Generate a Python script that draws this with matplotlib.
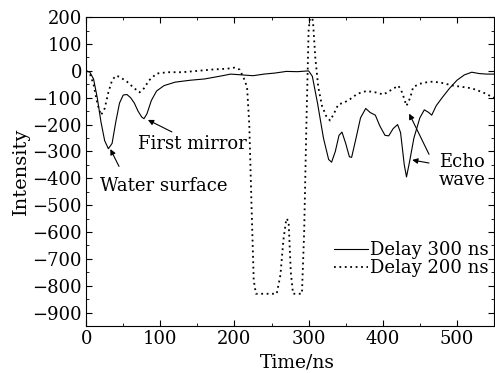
import matplotlib
matplotlib.use('Agg')
import matplotlib.pyplot as plt
from matplotlib.ticker import MultipleLocator

plt.rcParams['font.family'] = ['DejaVu Serif']

# Delay 300 ns (solid)
t300 = [0, 5, 10, 15, 20, 25, 30, 35, 40, 45, 50, 55, 60, 65, 70, 75, 78, 82, 88, 95,
        105, 120, 140, 160, 180, 195, 210, 225, 240, 255, 270, 285, 300, 305, 312, 320,
        327, 331, 336, 341, 345, 350, 355, 358, 364, 370, 377, 383, 390, 396, 403, 408,
        414, 420, 424, 429, 432, 436, 442, 450, 456, 462, 466, 472, 480, 490, 500, 510,
        520, 530, 540, 550]
v300 = [0, -5, -30, -100, -190, -260, -290, -270, -190, -120, -90, -88, -100, -120, -150,
        -172, -178, -160, -110, -75, -55, -42, -35, -30, -20, -12, -15, -18, -12, -8, -2,
        -3, 0, -20, -120, -250, -330, -340, -300, -240, -228, -270, -320, -322, -250, -175,
        -140, -155, -165, -205, -240, -242, -215, -200, -230, -350, -395, -340, -250, -175,
        -145, -155, -165, -130, -100, -65, -35, -15, -5, -10, -12, -12]

# Delay 200 ns (dotted)
t200 = [0, 5, 10, 15, 20, 25, 30, 35, 40, 45, 55, 65, 72, 78, 85, 95, 110, 130, 150, 170,
        190, 200, 207, 213, 217, 220, 223, 226, 229, 257, 262, 266, 270, 273, 276, 279,
        291, 294, 297, 300, 303, 306, 309, 313, 318, 324, 329, 334, 340, 348, 356, 366,
        378, 390, 401, 412, 421, 426, 432, 437, 441, 450, 460, 468, 480, 495, 508, 520,
        535, 546, 550]
v200 = [0, -10, -50, -120, -165, -140, -80, -35, -18, -22, -40, -65, -80, -65, -35, -10,
        -5, -5, 0, 5, 8, 12, 5, -30, -60, -200, -500, -780, -830, -830, -760, -630, -550,
        -560, -750, -830, -830, -600, -200, 150, 230, 180, 50, -60, -130, -170, -185, -160,
        -125, -118, -105, -85, -75, -80, -88, -70, -55, -80, -130, -100, -60, -48, -42,
        -40, -45, -55, -60, -65, -80, -95, -100]

fig = plt.figure(figsize=(4.95, 3.73), dpi=100)
ax = fig.add_axes([0.174, 0.126, 0.824, 0.828])

ax.plot(t300, v300, color='black', lw=0.8, label='Delay 300 ns')
ax.plot(t200, v200, color='black', lw=1.3, linestyle=(0, (1, 2)), label='Delay 200 ns')

ax.set_xlim(0, 550)
ax.set_ylim(-950, 200)
ax.xaxis.set_major_locator(MultipleLocator(100))
ax.xaxis.set_minor_locator(MultipleLocator(50))
ax.yaxis.set_major_locator(MultipleLocator(100))
ax.yaxis.set_minor_locator(MultipleLocator(50))
ax.tick_params(which='both', direction='in', top=True, right=True, labelsize=13, pad=3)
ax.tick_params(which='major', length=4)
ax.tick_params(which='minor', length=2)

ax.set_xlabel('Time/ns', fontsize=13.5)
ax.xaxis.set_label_coords(0.518, -0.09)
ax.set_ylabel('Intensity', fontsize=14, labelpad=2)

arrow = dict(arrowstyle='-|>', color='black', lw=0.8, mutation_scale=8)
ax.text(19, -427, 'Water surface', fontsize=13, va='center', ha='left')
ax.annotate('', xy=(31, -282), xytext=(46, -365), arrowprops=arrow)
ax.text(70, -272, 'First mirror', fontsize=13, va='center', ha='left')
ax.annotate('', xy=(80, -178), xytext=(119, -232), arrowprops=arrow)
ax.text(538, -373, 'Echo\nwave', fontsize=13, ha='right', va='center', linespacing=0.95)
ax.annotate('', xy=(436, -330), xytext=(466, -345), arrowprops=arrow)
ax.annotate('', xy=(434, -150), xytext=(464, -320), arrowprops=arrow)

ax.legend(loc='center right', bbox_to_anchor=(1.0, 0.217), frameon=False, fontsize=13,
          handlelength=1.9, handletextpad=0.1, labelspacing=0.0, borderaxespad=0.2,
          borderpad=0.1)

fig.savefig('out.png', dpi=100)
